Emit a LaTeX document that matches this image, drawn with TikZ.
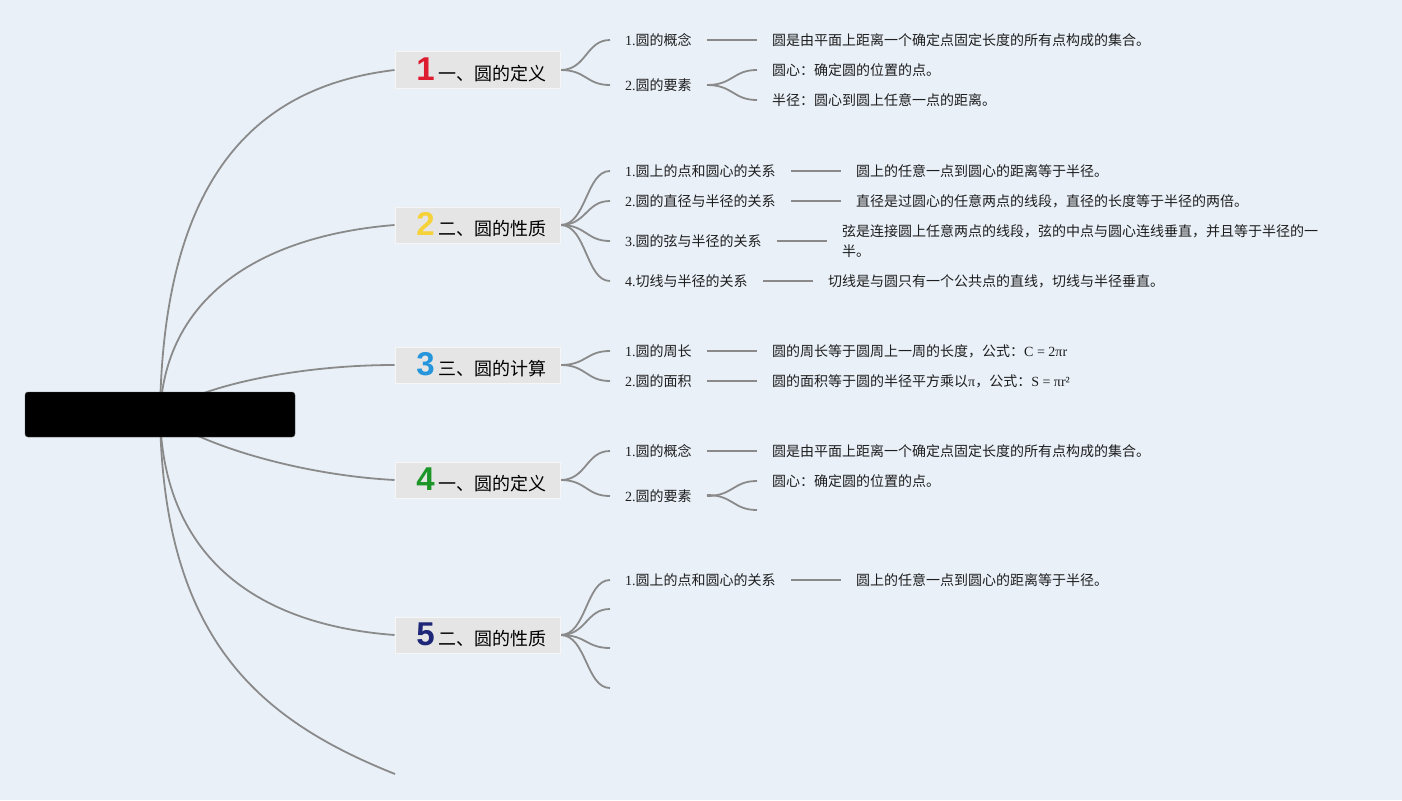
\documentclass[tikz,border=0pt]{standalone}
\usepackage{fontspec}
\setmainfont{Liberation Serif}
\newfontfamily\cjk{Noto Sans CJK SC}
\newfontfamily\numfont{Liberation Sans}
\definecolor{bgc}{RGB}{233,240,248}
\definecolor{linec}{RGB}{138,138,138}
\definecolor{boxc}{RGB}{229,229,229}
\definecolor{boxd}{RGB}{246,246,246}
\definecolor{txtc}{RGB}{30,30,30}
\definecolor{cone}{RGB}{222,28,48}
\definecolor{ctwo}{RGB}{246,210,58}
\definecolor{cthree}{RGB}{38,150,220}
\definecolor{cfour}{RGB}{28,150,40}
\definecolor{cfive}{RGB}{30,38,120}
\newcommand\dgt[2]{\hspace*{8pt}{\numfont\bfseries\fontsize{33}{33}\selectfont\color{#1}#2}\hspace{4pt}}
\pgfdeclarelayer{bglayer}
\pgfsetlayers{bglayer,main}
\begin{document}
\begin{tikzpicture}[x=1pt,y=-1pt,
  conn/.style={draw=linec, line width=1.8pt},
  topic/.style={fill=boxc, draw=boxd, line width=1pt, minimum width=165pt, minimum height=36pt, inner sep=0pt, text=black, font=\cjk\fontsize{18}{20}\selectfont},
  sub/.style={anchor=west, inner sep=0pt, text=txtc, font=\fontsize{14}{20}\selectfont},
  rootbox/.style={fill=black, draw=black!70, rounded corners=3pt, minimum width=270pt, minimum height=45pt, inner sep=0pt}]
\useasboundingbox (0,0) rectangle (1402,800);
% root
\node[rootbox] (root) at (160,414.5) {};
% topics
\node[topic] (b1) at (477.5,70) {\dgt{cone}{1}一、圆的定义};
\node[topic] (b2) at (477.5,225) {\dgt{ctwo}{2}二、圆的性质};
\node[topic] (b3) at (477.5,365) {\dgt{cthree}{3}三、圆的计算};
\node[topic] (b4) at (477.5,480) {\dgt{cfour}{4}一、圆的定义};
\node[topic] (b5) at (477.5,635) {\dgt{cfive}{5}二、圆的性质};
\coordinate (b6) at (395,774);
% topic 1
\node[sub] (a1) at (625,40) {1.{\cjk 圆的概念}};
\node[sub] (a1d) at (772,40) {\cjk 圆是由平面上距离一个确定点固定长度的所有点构成的集合。};
\node[sub] (a2) at (625,85) {2.{\cjk 圆的要素}};
\node[sub] (a2a) at (772,70) {\cjk 圆心：确定圆的位置的点。};
\node[sub] (a2b) at (772,100) {\cjk 半径：圆心到圆上任意一点的距离。};
% topic 2
\node[sub] (c1) at (625,171) {1.{\cjk 圆上的点和圆心的关系}};
\node[sub] (c1d) at (856,171) {\cjk 圆上的任意一点到圆心的距离等于半径。};
\node[sub] (c2) at (625,201) {2.{\cjk 圆的直径与半径的关系}};
\node[sub] (c2d) at (856,201) {\cjk 直径是过圆心的任意两点的线段，直径的长度等于半径的两倍。};
\node[sub] (c3) at (625,241) {3.{\cjk 圆的弦与半径的关系}};
\node[sub, align=left] (c3d) at (842,241) {\cjk 弦是连接圆上任意两点的线段，弦的中点与圆心连线垂直，并且等于半径的一\\\cjk 半。};
\node[sub] (c4) at (625,281) {4.{\cjk 切线与半径的关系}};
\node[sub] (c4d) at (828,281) {\cjk 切线是与圆只有一个公共点的直线，切线与半径垂直。};
% topic 3
\node[sub] (d1) at (625,351) {1.{\cjk 圆的周长}};
\node[sub] (d1d) at (772,351) {{\cjk 圆的周长等于圆周上一周的长度，公式：}C = 2πr};
\node[sub] (d2) at (625,381) {2.{\cjk 圆的面积}};
\node[sub] (d2d) at (772,381) {{\cjk 圆的面积等于圆的半径平方乘以}π{\cjk ，公式：}S = πr²};
% topic 4
\node[sub] (f1) at (625,451) {1.{\cjk 圆的概念}};
\node[sub] (f1d) at (772,451) {\cjk 圆是由平面上距离一个确定点固定长度的所有点构成的集合。};
\node[sub] (f2) at (625,496) {2.{\cjk 圆的要素}};
\node[sub] (f2a) at (772,481) {\cjk 圆心：确定圆的位置的点。};
\coordinate (f2b) at (757,510);
% topic 5
\node[sub] (g1) at (625,580) {1.{\cjk 圆上的点和圆心的关系}};
\node[sub] (g1d) at (856,580) {\cjk 圆上的任意一点到圆心的距离等于半径。};
\coordinate (g2) at (610,609);
\coordinate (g3) at (610,648);
\coordinate (g4) at (610,688);

\begin{pgfonlayer}{bglayer}
\fill[bgc] (0,0) rectangle (1402,800);
% main curves
\draw[conn] (root.center) .. controls (163,160) and (270,85) .. (b1.west);
\draw[conn] (root.center) .. controls (165,290) and (270,235) .. (b2.west);
\draw[conn] (root.center) .. controls (200,385) and (300,365) .. (b3.west);
\draw[conn] (root.center) .. controls (200,445) and (300,475) .. (b4.west);
\draw[conn] (root.center) .. controls (163,560) and (260,625) .. (b5.west);
\draw[conn] (root.center) .. controls (163,640) and (260,720) .. (b6);
% forks topic 1
\draw[conn] (b1.east) .. controls +(26,0) and +(-24,0) .. ([xshift=-15pt]a1.west);
\draw[conn] (b1.east) .. controls +(26,0) and +(-24,0) .. ([xshift=-15pt]a2.west);
\draw[conn] ([xshift=-65pt]a1d.west) -- ([xshift=-15pt]a1d.west);
\draw[conn] ([xshift=-65pt,yshift=-15pt]a2a.west) .. controls +(26,0) and +(-24,0) .. ([xshift=-15pt]a2a.west);
\draw[conn] ([xshift=-65pt,yshift=15pt]a2b.west) .. controls +(26,0) and +(-24,0) .. ([xshift=-15pt]a2b.west);
% forks topic 2
\foreach \n in {c1,c2,c3,c4}{
  \draw[conn] (b2.east) .. controls +(26,0) and +(-24,0) .. ([xshift=-15pt]\n.west);
  \draw[conn] ([xshift=-65pt]\n d.west) -- ([xshift=-15pt]\n d.west);
}
% forks topic 3
\foreach \n in {d1,d2}{
  \draw[conn] (b3.east) .. controls +(26,0) and +(-24,0) .. ([xshift=-15pt]\n.west);
  \draw[conn] ([xshift=-65pt]\n d.west) -- ([xshift=-15pt]\n d.west);
}
% forks topic 4
\draw[conn] (b4.east) .. controls +(26,0) and +(-24,0) .. ([xshift=-15pt]f1.west);
\draw[conn] (b4.east) .. controls +(26,0) and +(-24,0) .. ([xshift=-15pt]f2.west);
\draw[conn] ([xshift=-65pt]f1d.west) -- ([xshift=-15pt]f1d.west);
\draw[conn] ([xshift=-65pt,yshift=-15pt]f2a.west) .. controls +(26,0) and +(-24,0) .. ([xshift=-15pt]f2a.west);
\draw[conn] ([xshift=-50pt,yshift=15pt]f2b) .. controls +(26,0) and +(-24,0) .. (f2b);
% forks topic 5
\draw[conn] (b5.east) .. controls +(26,0) and +(-24,0) .. ([xshift=-15pt]g1.west);
\draw[conn] ([xshift=-65pt]g1d.west) -- ([xshift=-15pt]g1d.west);
\foreach \n in {g2,g3,g4}{
  \draw[conn] (b5.east) .. controls +(26,0) and +(-24,0) .. (\n);
}
\end{pgfonlayer}
\end{tikzpicture}
\end{document}
